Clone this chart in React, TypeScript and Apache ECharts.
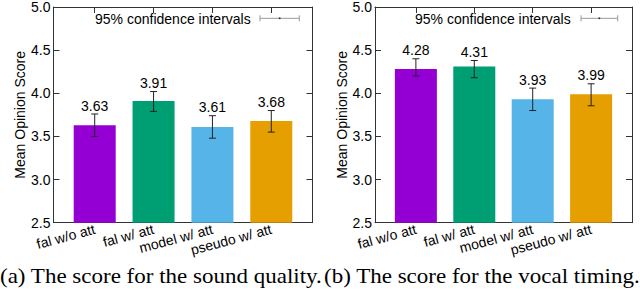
import React, { useEffect, useRef } from "react";
import * as echarts from "echarts";

const categories = ["fal w/o att", "fal w/ att", "model w/ att", "pseudo w/ att"];
const barColors = ["#9400D3", "#009E73", "#56B4E9", "#E69F00"];

const qualityMeans = [3.63, 3.91, 3.61, 3.68];
const qualityLow = [3.5, 3.79, 3.48, 3.55];
const qualityHigh = [3.76, 4.02, 3.74, 3.8];

const timingMeans = [4.28, 4.31, 3.93, 3.99];
const timingLow = [4.2, 4.18, 3.8, 3.855];
const timingHigh = [4.4, 4.38, 4.06, 4.11];

const yMin = 2.5;
const yMax = 5.0;
const yInterval = 0.5;
const categoryPositions = [0, 1, 2, 3];

const yAxisName = "Mean Opinion Score";
const legendText = "95% confidence intervals";
const captionA = "(a) The score for the sound quality.";
const captionB = "(b) The score for the vocal timing.";

const SANS = "'Liberation Sans', Arial, Helvetica, sans-serif";
const SERIF = "'Liberation Serif', 'Times New Roman', Times, serif";
const FRAME = "#333";

export default function App() {
  const ref = useRef<HTMLDivElement>(null);

  useEffect(() => {
    document.body.style.margin = "0";
    if (!ref.current) return;
    const chart = echarts.init(ref.current, undefined, { renderer: "svg" });

    const grids = [
      { left: 53.5, top: 4.7, width: 259, height: 218 },
      { left: 375, top: 4.7, width: 257, height: 218 },
    ];

    const xAxes: any[] = [];
    const yAxes: any[] = [];
    grids.forEach((_, gi) => {
      const base = {
        type: "value",
        gridIndex: gi,
        min: -0.7,
        max: 3.7,
        splitLine: { show: false },
        axisLine: { show: true, onZero: false, lineStyle: { color: FRAME, width: 1 } },
      };
      xAxes.push({
        ...base,
        position: "bottom",
        axisTick: { show: false },
        axisLabel: {
          show: true,
          customValues: categoryPositions,
          formatter: (v: number) => categories[Math.round(v)] ?? "",
          rotate: 15,
          margin: 6,
          color: "#000",
          fontSize: 14,
          fontFamily: SANS,
        },
      });
      xAxes.push({
        ...base,
        position: "top",
        axisTick: {
          show: true,
          inside: true,
          length: 6,
          customValues: categoryPositions,
          lineStyle: { color: FRAME },
        },
        axisLabel: { show: false },
      });
      const ybase = {
        type: "value",
        gridIndex: gi,
        min: yMin,
        max: yMax,
        interval: yInterval,
        splitLine: { show: false },
        axisLine: { show: true, onZero: false, lineStyle: { color: FRAME, width: 1 } },
        axisTick: { show: true, inside: true, length: 6, lineStyle: { color: FRAME } },
      };
      yAxes.push({
        ...ybase,
        position: "left",
        name: yAxisName,
        nameLocation: "middle",
        nameGap: 23,
        nameTextStyle: { color: "#000", fontSize: 14, fontFamily: SANS },
        axisLabel: {
          show: true,
          margin: 3,
          color: "#000",
          fontSize: 14,
          fontFamily: SANS,
          formatter: (v: number) => v.toFixed(1),
        },
      });
      yAxes.push({
        ...ybase,
        position: "right",
        axisLabel: { show: false },
      });
    });

    const panels = [
      { means: qualityMeans, low: qualityLow, high: qualityHigh },
      { means: timingMeans, low: timingLow, high: timingHigh },
    ];

    const series: any[] = [];
    panels.forEach((p, gi) => {
      series.push({
        type: "bar",
        xAxisIndex: gi * 2,
        yAxisIndex: gi * 2,
        barWidth: 42,
        clip: true,
        z: 2,
        data: p.means.map((m, i) => ({
          value: [categoryPositions[i], m],
          itemStyle: { color: barColors[i] },
        })),
      });
      series.push({
        type: "custom",
        xAxisIndex: gi * 2,
        yAxisIndex: gi * 2,
        z: 5,
        data: p.means.map((m, i) => [categoryPositions[i], p.low[i], p.high[i], m]),
        renderItem: (params: any, api: any) => {
          const x = api.value(0);
          const lo = api.value(1);
          const hi = api.value(2);
          const m = api.value(3);
          const pLo = api.coord([x, lo]);
          const pHi = api.coord([x, hi]);
          const cw = 3.5;
          const ls = { stroke: "#222", lineWidth: 1 };
          return {
            type: "group",
            children: [
              { type: "line", shape: { x1: pLo[0], y1: pLo[1], x2: pHi[0], y2: pHi[1] }, style: ls },
              { type: "line", shape: { x1: pLo[0] - cw, y1: pLo[1], x2: pLo[0] + cw, y2: pLo[1] }, style: ls },
              { type: "line", shape: { x1: pHi[0] - cw, y1: pHi[1], x2: pHi[0] + cw, y2: pHi[1] }, style: ls },
              {
                type: "text",
                x: pHi[0],
                y: pHi[1] - 8.3,
                style: {
                  text: m.toFixed(2),
                  fill: "#000",
                  font: `14px ${SANS}`,
                  align: "center",
                  verticalAlign: "middle",
                },
              },
            ],
          };
        },
      });
    });

    const legendGraphic = (textRight: number, lineX1: number, lineX2: number) => {
      const y = 18.3;
      const mid = (lineX1 + lineX2) / 2;
      return {
        type: "group",
        children: [
          {
            type: "text",
            x: textRight,
            y: 18.5,
            style: {
              text: legendText,
              fill: "#000",
              font: `14px ${SANS}`,
              align: "right",
              verticalAlign: "middle",
            },
          },
          { type: "line", shape: { x1: lineX1, y1: y, x2: lineX2, y2: y }, style: { stroke: "#999", lineWidth: 1 } },
          { type: "line", shape: { x1: lineX1, y1: y - 3, x2: lineX1, y2: y + 3 }, style: { stroke: "#999", lineWidth: 1 } },
          { type: "line", shape: { x1: lineX2, y1: y - 3, x2: lineX2, y2: y + 3 }, style: { stroke: "#999", lineWidth: 1 } },
          { type: "rect", shape: { x: mid - 0.8, y: y - 0.8, width: 1.6, height: 1.6 }, style: { fill: "#222" } },
        ],
      };
    };

    chart.setOption({
      animation: false,
      backgroundColor: "#fff",
      grid: grids.map((g) => ({ ...g, containLabel: false })),
      xAxis: xAxes,
      yAxis: yAxes,
      series,
      graphic: [
        legendGraphic(250.7, 260, 299.3),
        legendGraphic(570.7, 581, 617.7),
        {
          type: "text",
          x: 0,
          y: 276.3,
          scaleX: 1.15,
          style: { text: captionA, fill: "#000", font: `20px ${SERIF}`, align: "left", verticalAlign: "middle" },
        },
        {
          type: "text",
          x: 324,
          y: 276.3,
          scaleX: 1.15,
          style: { text: captionB, fill: "#000", font: `20px ${SERIF}`, align: "left", verticalAlign: "middle" },
        },
      ],
    });

    return () => {
      chart.dispose();
    };
  }, []);

  return (
    <div
      ref={ref}
      style={{ position: "absolute", left: 0, top: 0, width: 640, height: 291 }}
    />
  );
}
